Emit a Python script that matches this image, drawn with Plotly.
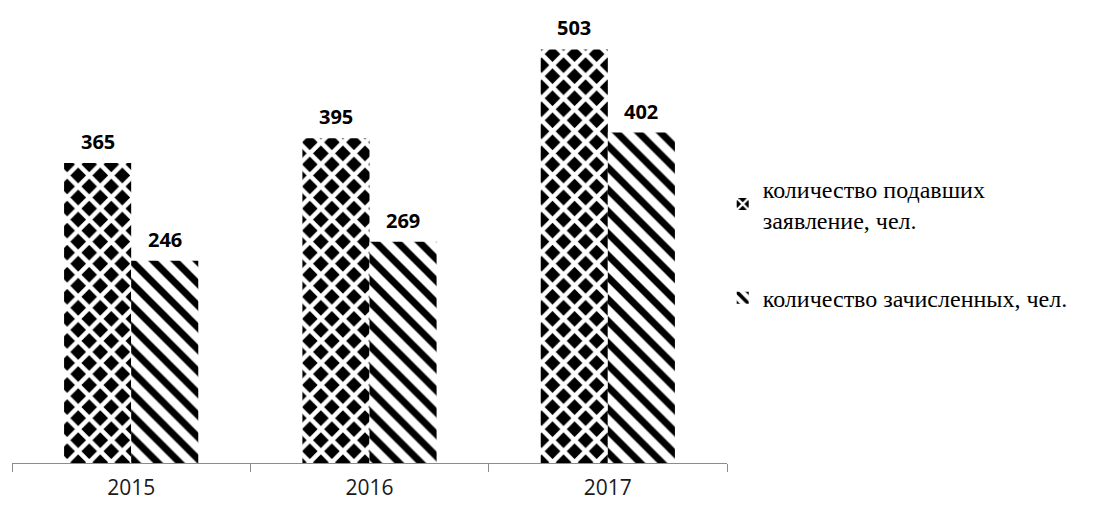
import plotly.graph_objects as go

years = ["2015", "2016", "2017"]
applied = [365, 395, 503]
enrolled = [246, 269, 402]
series_names = ["количество подавших<br>заявление, чел.", "количество зачисленных, чел."]

fig = go.Figure()
fig.add_trace(go.Bar(
    x=years, y=applied, name=series_names[0], legendgroup="a",
    marker=dict(color="black", line=dict(width=0),
                pattern=dict(shape="x", fgcolor="white", bgcolor="black",
                             fgopacity=1, size=15.6, solidity=0.5, fillmode="replace")),
))
fig.add_trace(go.Bar(
    x=years, y=enrolled, name=series_names[1], legendgroup="b",
    marker=dict(color="white", line=dict(width=0),
                pattern=dict(shape="\\", fgcolor="black", bgcolor="white",
                             fgopacity=1, size=15.5, solidity=0.45, fillmode="replace")),
))

for vals, shift in ((applied, -33.5), (enrolled, 33.5)):
    for i, v in enumerate(vals):
        fig.add_annotation(x=i, y=v, xref="x", yref="y", text=f"<b>{v}</b>", showarrow=False,
                           xshift=shift, yanchor="bottom", yshift=6,
                           font=dict(family="Open Sans", size=20, color="#000000"))

fig.update_layout(
    width=1112, height=506,
    margin=dict(l=4, r=393, t=2, b=51, autoexpand=False),
    paper_bgcolor="white", plot_bgcolor="white",
    barmode="group", bargap=0.437, bargroupgap=0,
    showlegend=True,
    legend=dict(x=0.994, y=0.655, xanchor="left", yanchor="top",
                traceorder="grouped", tracegroupgap=44,
                font=dict(family="Liberation Serif", size=24, color="#000000"),
                bgcolor="rgba(0,0,0,0)"),
    xaxis=dict(type="category", showline=True, linecolor="#8c8c8c", linewidth=1,
               ticks="outside", tickson="boundaries", ticklen=8, tickcolor="#8c8c8c",
               ticklabelstandoff=6,
               tickfont=dict(family="Open Sans", size=21, color="#1a1a1a"),
               showgrid=False),
    yaxis=dict(range=[0, 551], visible=False, showgrid=False, zeroline=False),
)

fig.write_html("out.html")
